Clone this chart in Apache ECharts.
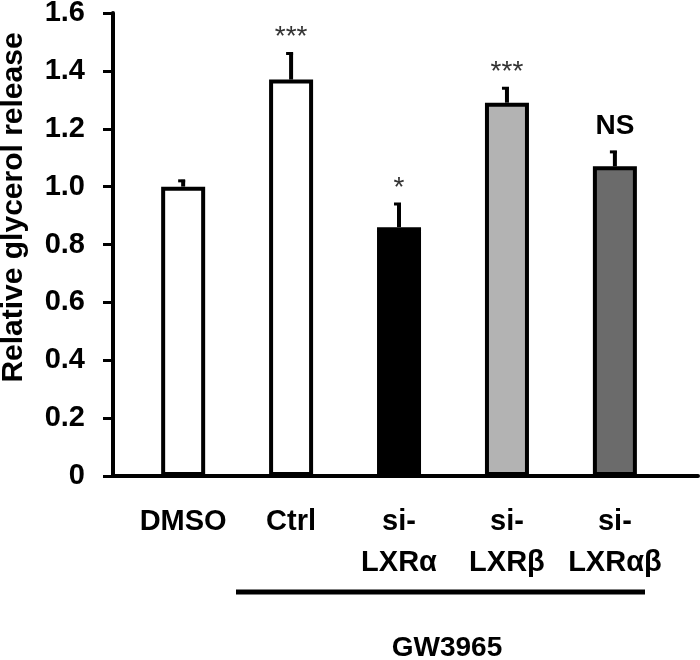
<!DOCTYPE html>
<html>
<head>
<meta charset="utf-8">
<script src="https://cdn.jsdelivr.net/npm/echarts@6/dist/echarts.min.js"></script>
<style>html,body{margin:0;padding:0;background:#fff}#c{width:700px;height:660px}</style>
</head>
<body>
<div id="c"></div>
<script>
const categories = ['DMSO', 'Ctrl', 'si-\nLXRα', 'si-\nLXRβ', 'si-\nLXRαβ'];
const values = [1.00, 1.37, 0.86, 1.29, 1.07];
const errors = [0.02, 0.09, 0.08, 0.05, 0.05];
const marks = ['', '***', '*', '***', 'NS'];
const fills = ['#ffffff', '#ffffff', '#000000', '#b3b3b3', '#6b6b6b'];
const yMin = 0, yMax = 1.6, yStep = 0.2;
const groupLabel = 'GW3965';
const yTitle = 'Relative glycerol release';

const FONT = "'Liberation Sans', Arial, sans-serif";
const chart = echarts.init(document.getElementById('c'), null, {renderer: 'canvas'});

const idx = categories.map((_, i) => i);

const option = {
  animation: false,
  backgroundColor: '#ffffff',
  grid: {left: 113, right: 2, top: 13, bottom: 184, containLabel: false, outerBoundsMode: 'none'},
  xAxis: {
    type: 'value',
    min: -0.65,
    max: 4.77,
    splitLine: {show: false},
    axisTick: {show: false},
    axisLine: {show: true, onZero: false, lineStyle: {color: '#000', width: 4}},
    axisLabel: {
      customValues: idx,
      formatter: v => categories[Math.round(v)] || '',
      fontFamily: FONT, fontWeight: 'bold', fontSize: 29, color: '#000',
      lineHeight: 41, margin: 25, showMinLabel: true, showMaxLabel: true
    }
  },
  yAxis: {
    type: 'value',
    min: yMin, max: yMax, interval: yStep,
    splitLine: {show: false},
    axisLine: {show: true, onZero: false, lineStyle: {color: '#000', width: 4}},
    axisTick: {show: true, length: 10, lineStyle: {color: '#000', width: 3}},
    axisLabel: {
      formatter: v => (v === 0 ? '0' : v.toFixed(1)),
      fontFamily: FONT, fontWeight: 'bold', fontSize: 29, color: '#000', margin: 28
    },
    name: yTitle,
    nameLocation: 'middle',
    nameRotate: 90,
    nameGap: 84,
    nameTextStyle: {fontFamily: FONT, fontWeight: 'bold', fontSize: 30, color: '#000', padding: [0, 0, 0, 74]}
  },
  series: [
    {
      type: 'bar',
      barWidth: 44,
      data: values.map((v, i) => ({
        value: [i, v],
        itemStyle: {color: fills[i], borderColor: '#000', borderWidth: 4}
      })),
      z: 2
    },
    {
      type: 'custom',
      z: 3,
      data: values.map((v, i) => [i, v, errors[i]]),
      renderItem: (params, api) => {
        const i = api.value(0), v = api.value(1), e = api.value(2);
        const p0 = api.coord([i, v]);
        const p1 = api.coord([i, v + e]);
        const m = marks[i];
        const children = [
          {type: 'line', shape: {x1: p0[0], y1: p0[1], x2: p0[0], y2: p1[1] - 1}, style: {stroke: '#000', lineWidth: 4}},
          {type: 'line', shape: {x1: p0[0] - 5, y1: p1[1], x2: p0[0] + 2, y2: p1[1]}, style: {stroke: '#000', lineWidth: 3}}
        ];
        if (m) {
          const isNS = m === 'NS';
          children.push({
            type: 'text',
            style: {
              x: p0[0], y: p1[1] - (isNS ? 12 : 2),
              text: m,
              fill: isNS ? '#000' : '#333',
              font: (isNS ? 'bold 28px ' : '28px ') + FONT,
              textAlign: 'center', textVerticalAlign: 'bottom'
            }
          });
        }
        return {type: 'group', children};
      }
    }
  ],
  graphic: [
    {type: 'line', shape: {x1: 236, y1: 592, x2: 645, y2: 592}, style: {stroke: '#000', lineWidth: 5}},
    {type: 'text', x: 447, y: 648, style: {text: groupLabel, font: 'bold 28px ' + FONT, fill: '#000', textAlign: 'center', textVerticalAlign: 'middle'}}
  ]
};
chart.setOption(option);
</script>
</body>
</html>
